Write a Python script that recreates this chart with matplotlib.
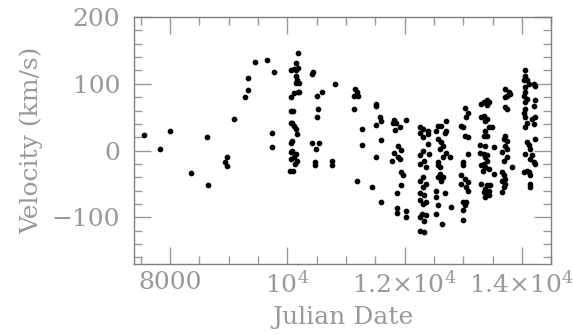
import matplotlib
matplotlib.use("Agg")
import matplotlib.pyplot as plt
from matplotlib.ticker import MultipleLocator, FixedLocator, FixedFormatter

# Julian date / radial velocity
jd = [7557, 7830, 8000, 8363, 8625, 8648, 8940, 8970, 8970, 9096, 9284, 9330,
      9330, 9449, 9654, 9778, 9744, 9744,
      # stack near 10^4
      10180, 10150, 10180, 10150, 10120, 10060, 10150, 10160, 10150, 10200,
      10120, 10190, 10060, 10100, 10060, 10090, 10110, 10150, 10160, 10060,
      10090, 10060, 10090, 10150, 10110, 10170, 10060, 10060, 10100, 10050,
      10200, 10140,
      10416, 10440, 10512, 10597, 10529, 10512, 10416, 10546, 10489, 10470,
      10470, 10767, 10767, 10813,
      11150, 11185, 11135, 11210, 11137, 11183, 11279, 11279,
      11518, 11518, 11575, 11600, 11518, 11602, 11518, 11450, 11602,
      11820, 11860, 11800, 12030, 11927, 11842, 11890, 11944, 11820, 11890,
      11920, 11780, 11944, 11975, 11944, 11876, 11876, 11876, 12030, 12030,
      12257, 12313, 12257, 12313, 12399, 12399, 12399, 12420, 12313, 12257,
      12330, 12257, 12370, 12313, 12257, 12370, 12313, 12257, 12330, 12257,
      12370, 12313, 12290, 12370, 12257, 12330, 12257, 12330,
      12711, 12570, 12626, 12711, 12541, 12683, 12570, 12626, 12655, 12598,
      12711, 12768, 12655, 12570, 12570, 12598, 12598, 12655, 12570, 12626,
      12541, 12683, 12541, 12570, 12796, 12541, 12640,
      13024, 13081, 13052, 12967, 12996, 13024, 13081, 13081, 12996, 12996,
      12967, 13024, 13081, 12967, 13052, 13081, 12996, 13052, 13024, 12996,
      12996,
      13405, 13348, 13433, 13405, 13348, 13405, 13376, 13433, 13490, 13376,
      13348, 13405, 13376, 13519, 13348, 13405, 13376, 13405, 13348, 13376,
      13433, 13519, 13405, 13462, 13376, 13433, 13348, 13405, 13376, 13433,
      13280, 13280, 13308, 13336, 13308, 13308, 13308,
      13718, 13775, 13746, 13803, 13718, 13718, 13746, 13718, 13690, 13746,
      13718, 13746, 13661, 13746, 13690, 13832, 13661, 13690, 13718, 13661,
      13718, 13690, 13661,
      14059, 14059, 14030, 14087, 14116, 14201, 14230, 14059, 14059, 14030,
      14087, 14230, 14059, 14201, 14059, 14030, 14059, 14173, 14230, 14087,
      14201, 14059, 14230, 14087, 14116, 14144, 14059, 14173, 14144, 14201,
      14230, 14087, 14030, 14116, 14144, 14144, 14144]

vel = [23, 2, 29, -33, 21, -52, -17, -10, -23, 48, 80, 90,
       109, 133, 135, 117, 27, 6,
       146, 131, 124, 121, 122, 120, 111, 105, 101, 101,
       86, 88, 80, 59, 59, 42, 37, 32, 25, 41,
       15, 12, 0, -5, -10, -15, -2, -12, -30, -30,
       88, -20,
       114, 118, 81, 88, 62, 50, 12, 11, 2, -17,
       -22, -15, -22, 100,
       92, 88, 82, 82, 63, -45, 32, 9,
       70, 67, 50, 45, 39, 16, -10, -55, -77,
       46, 42, 42, 46, 36, 31, 7, 1, -4, -10,
       -12, -15, -32, -36, -52, -64, -86, -93, -90, -99,
       35, 33, 27, 20, 30, 25, 10, -5, 0, -7,
       -15, -20, -25, -40, -45, -50, -55, -64, -67, -74,
       -77, -80, -95, -97, -100, -105, -120, -122,
       45, 37, 37, 30, 30, 27, 18, 13, 7, 3,
       -3, -10, -10, -17, -22, -25, -35, -40, -40, -45,
       -60, -64, -70, -82, -85, -95, -110,
       64, 57, 50, 37, 35, 22, 20, -5, -17, -22,
       -37, -42, -47, -50, -55, -60, -77, -77, -82, -89,
       -104,
       75, 73, 73, 68, 52, 47, 45, 35, 35, 30,
       22, 22, 7, 6, -5, -7, -10, -15, -20, -25,
       -27, -35, -52, -52, -57, -60, -62, -65, -70, -67,
       8, -3, -22, -30, -50, 70, 50,
       92, 88, 82, 85, 80, 65, 62, 22, 17, 15,
       7, 2, -2, -10, -15, -25, -32, -37, -42, -45,
       -50, -55, -62,
       120, 112, 105, 105, 100, 100, 97, 95, 87, 82,
       77, 75, 72, 67, 62, 57, 50, 47, 50, 42,
       40, 35, 18, 13, 8, 3, -5, -7, -12, -17,
       -20, -30, -32, -32, -37, -50, -55]

xticks = [8000, 10000, 12000, 14000]
xticklabels = ['8000', r'$10^4$', r'$1.2{\times}10^4$', r'$1.4{\times}10^4$']
yticks = [-100, 0, 100, 200]

plt.rcParams['font.family'] = 'DejaVu Serif'
plt.rcParams['mathtext.fontset'] = 'dejavuserif'
grey = '#999999'

fig = plt.figure(figsize=(5.73, 3.35), dpi=100)
ax = fig.add_axes([0.234, 0.212, 0.728, 0.737])

ax.plot(jd, vel, 'o', color='black', ms=3.1, mec='black')

ax.set_xlim(7390, 14500)
ax.set_ylim(-170, 200)

ax.xaxis.set_major_locator(FixedLocator(xticks))
ax.xaxis.set_major_formatter(FixedFormatter(xticklabels))
ax.xaxis.set_minor_locator(MultipleLocator(500))
ax.yaxis.set_major_locator(FixedLocator(yticks))
ax.yaxis.set_minor_locator(MultipleLocator(20))

ax.tick_params(which='both', direction='in', top=True, right=True,
               color='#9a9a9a', width=1.0, labelcolor=grey, labelsize=18)
ax.tick_params(which='major', length=12)
ax.tick_params(which='minor', length=6)
ax.tick_params(axis='y', pad=10)
ax.tick_params(axis='x', pad=5)

for s in ax.spines.values():
    s.set_color('#808080')
    s.set_linewidth(1.0)

ax.set_xlabel('Julian Date', fontsize=18, color=grey, labelpad=6)
ax.set_ylabel('Velocity (km/s)', fontsize=18, color=grey, labelpad=6)

fig.savefig('out.png', dpi=100)
